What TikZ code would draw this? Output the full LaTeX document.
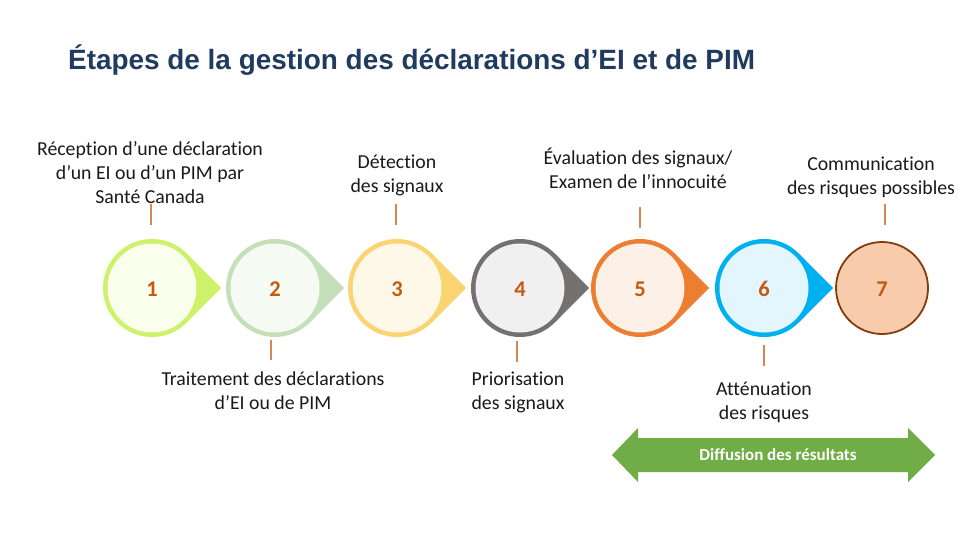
\documentclass[tikz,border=0pt]{standalone}
\usepackage{fontspec}
\setmainfont{Carlito}[Ligatures=NoCommon]
\newfontfamily\titlefont{Liberation Sans}
\usetikzlibrary{calc}
\definecolor{titleblue}{HTML}{213B5E}
\definecolor{numcol}{HTML}{C55A11}
\definecolor{tickcol}{HTML}{D4874E}
\definecolor{bA}{HTML}{CDF26A}\definecolor{fA}{HTML}{FAFEEC}
\definecolor{bB}{HTML}{C5DFB8}\definecolor{fB}{HTML}{F5FAF2}
\definecolor{bC}{HTML}{F9D470}\definecolor{fC}{HTML}{FEF8E8}
\definecolor{bD}{HTML}{767171}\definecolor{fD}{HTML}{F0F0F0}
\definecolor{bE}{HTML}{ED7D31}\definecolor{fE}{HTML}{FDF0E6}
\definecolor{bF}{HTML}{00B0F0}\definecolor{fF}{HTML}{E4F6FD}
\definecolor{bG}{HTML}{843C0C}\definecolor{fG}{HTML}{F8CBAD}
\definecolor{arrowgreen}{HTML}{70AD47}
\definecolor{txt}{HTML}{1A1A1A}
\begin{document}
\begin{tikzpicture}[x=1pt,y=-1pt,
  num/.style={font=\bfseries\fontsize{22.5}{24}\selectfont, text=numcol, inner sep=0pt, anchor=base},
  lbl/.style={font=\fontsize{19.8}{24}\selectfont, text=txt, align=center, inner sep=0pt},
  tick/.style={draw=tickcol, line width=2.6pt},
  ttl/.style={font=\titlefont\bfseries\fontsize{27.9}{30}\selectfont, text=titleblue, inner sep=0pt, anchor=west}]
\useasboundingbox (0,0) rectangle (960,540);
\fill[white] (0,0) rectangle (960,540);

\node[ttl] (title) at (68,60) {Étapes de la gestion des déclarations d’EI et de PIM};

% teardrops
\foreach \cx/\bc/\fc in {152/bA/fA, 275/bB/fB, 397/bC/fC, 520/bD/fD, 640/bE/fE, 764/bF/fF}{
  \fill[\bc] (\cx,288) ++(69pt,0) -- ($(\cx,288)+(45.3:49pt)$) arc[start angle=45.3, end angle=314.7, radius=49pt] -- cycle;
  \fill[\fc] (\cx,288) circle[radius=44.5pt];
}
\fill[fG] (882,288) circle[radius=46pt];
\draw[bG, line width=1.8pt] (882,288) circle[radius=46pt];

\node[num] (n1) at (152,296.5) {1};
\node[num] (n2) at (275,296.5) {2};
\node[num] (n3) at (397,296.5) {3};
\node[num] (n4) at (520,296.5) {4};
\node[num] (n5) at (640,296.5) {5};
\node[num] (n6) at (764,296.5) {6};
\node[num] (n7) at (882,296.5) {7};

% labels
\node[lbl] (l1) at (150,173) {Réception d’une déclaration\\d’un EI ou d’un PIM par\\Santé Canada};
\node[lbl] (l3) at (397,175) {Détection\\des signaux};
\node[lbl] (l5) at (638,168) {Évaluation des signaux/\\Examen de l’innocuité};
\node[lbl] (l7) at (871,177) {Communication\\des risques possibles};
\node[lbl] (l2) at (273,391) {Traitement des déclarations\\d’EI ou de PIM};
\node[lbl] (l4) at (518,392) {Priorisation\\des signaux};
\node[lbl] (l6) at (764,402) {Atténuation\\des risques};

% ticks
\coordinate (t1a) at (151,204); \coordinate (t1b) at (151,225);
\coordinate (t3a) at (396,204); \coordinate (t3b) at (396,225);
\coordinate (t5a) at (640,207); \coordinate (t5b) at (640,228);
\coordinate (t7a) at (885,204); \coordinate (t7b) at (885,225);
\coordinate (t2a) at (271,340); \coordinate (t2b) at (271,360);
\coordinate (t4a) at (517,341); \coordinate (t4b) at (517,362);
\coordinate (t6a) at (764,345); \coordinate (t6b) at (764,366);
\foreach \t in {1,2,3,4,5,6,7}{\draw[tick] (t\t a) -- (t\t b);}

% double arrow
\fill[arrowgreen] (612,455) -- (638,428) -- (638,438) -- (908,438) -- (908,428) -- (935,455)
  -- (908,482) -- (908,472) -- (638,472) -- (638,482) -- cycle;
\node[font=\bfseries\fontsize{17}{19}\selectfont, text=white, inner sep=0pt] (diff) at (778,455) {Diffusion des résultats};
\end{tikzpicture}
\end{document}
